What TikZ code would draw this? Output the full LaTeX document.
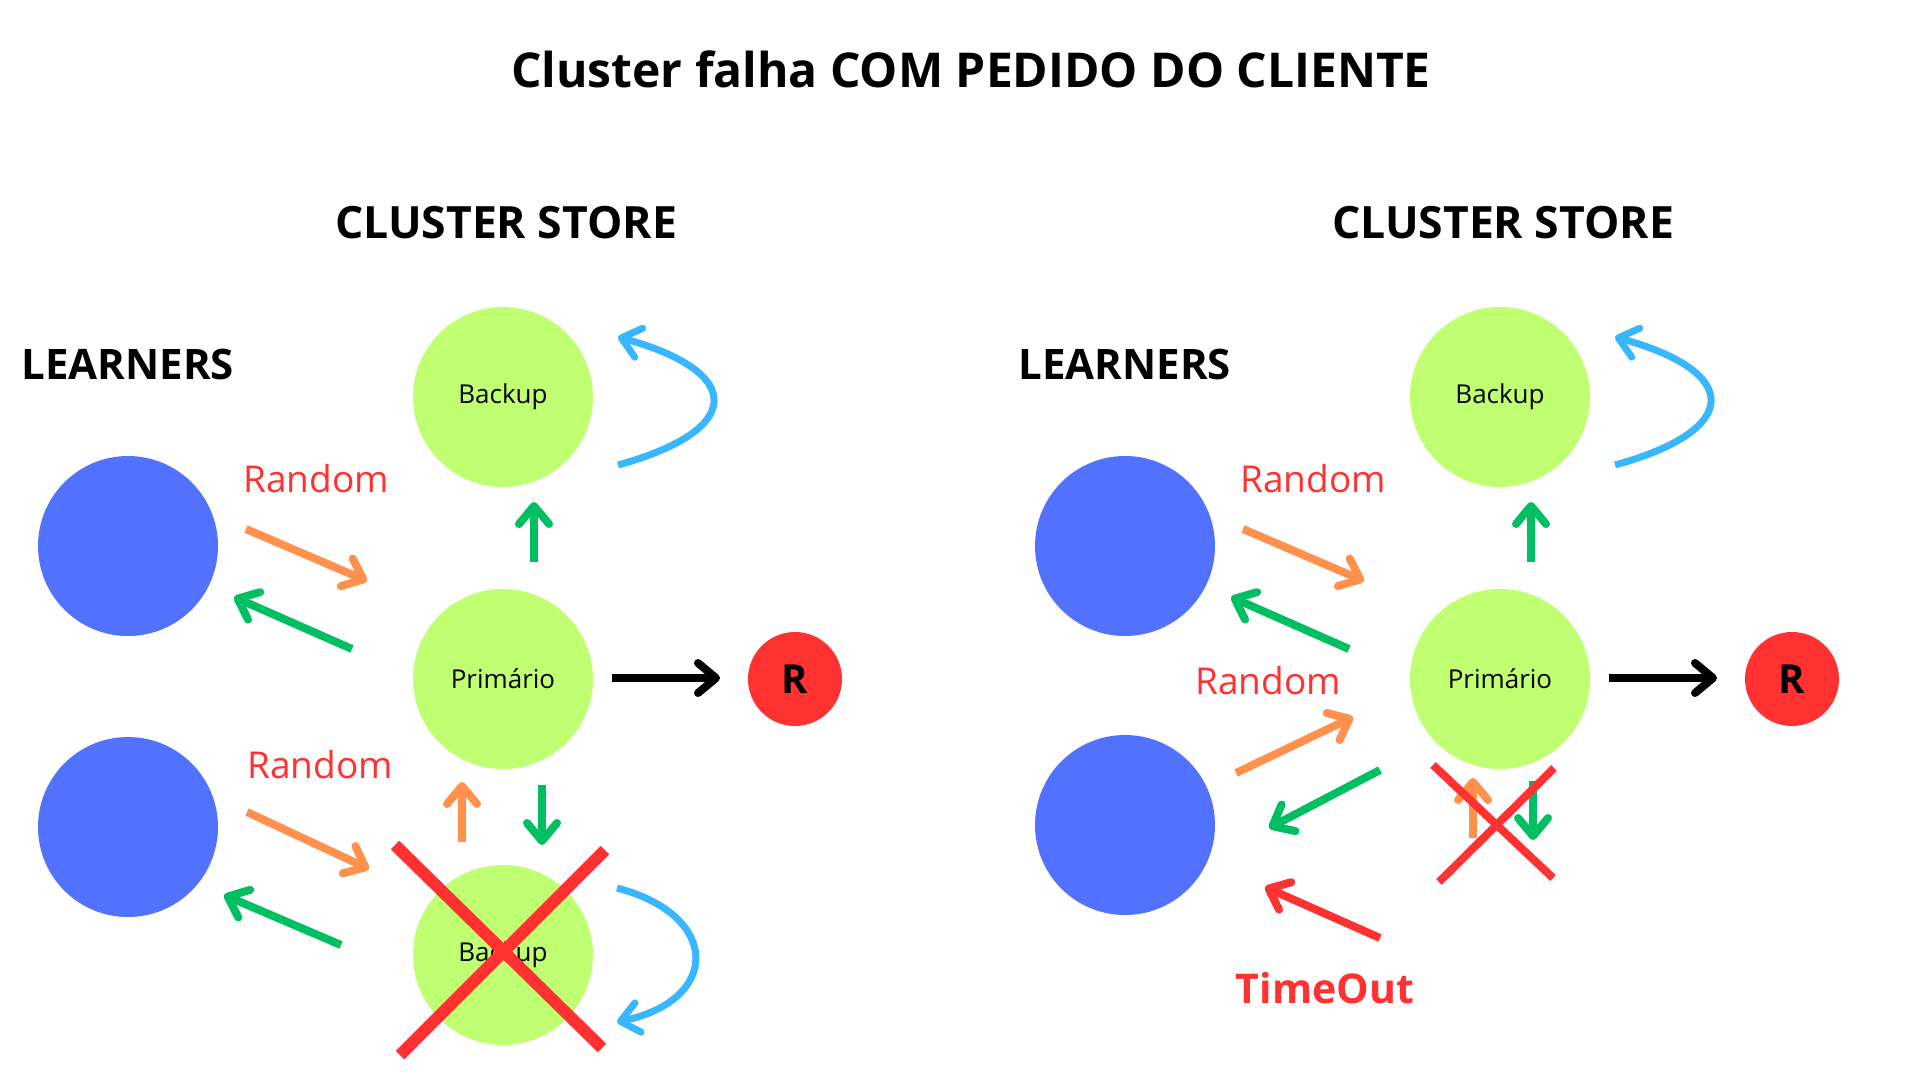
\documentclass[tikz,border=0pt]{standalone}
\usepackage{fontspec}
\setmainfont{Open Sans}
\usetikzlibrary{arrows.meta}
\definecolor{cgreen}{HTML}{00BF63}
\definecolor{corange}{HTML}{FF914D}
\definecolor{cblue}{HTML}{38B6FF}
\definecolor{clearner}{HTML}{5271FF}
\definecolor{cnode}{HTML}{C1FF72}
\definecolor{cred}{HTML}{FF3131}
\begin{document}
\begin{tikzpicture}[x=1pt,y=-1pt,
  learner/.style={circle, fill=clearner, minimum size=180pt, inner sep=0pt},
  store/.style={circle, fill=cnode, minimum size=180pt, inner sep=0pt, font=\fontsize{26}{30}\selectfont},
  rnode/.style={circle, fill=cred, minimum size=94pt, inner sep=0pt, font=\bfseries\fontsize{40}{40}\selectfont},
  heading/.style={anchor=base, font=\bfseries\fontsize{48}{48}\selectfont},
  subheading/.style={anchor=base, font=\bfseries\fontsize{44.5}{44.5}\selectfont},
  learnlbl/.style={anchor=base west, font=\bfseries\fontsize{42}{42}\selectfont},
  randlbl/.style={anchor=base, text=cred, font=\fontsize{37}{37}\selectfont},
  arr/.style={line width=8pt, -{Straight Barb[length=18pt,width=30pt,round]}},
  loop/.style={line width=7pt, cblue, -{Straight Barb[length=18pt,width=30pt,round]}},
  cross/.style={line width=#1, cred}
]
\useasboundingbox (0,0) rectangle (1920,1080);
\fill[white] (0,0) rectangle (1920,1080);

% headings
\node[heading] (title) at (971,87) {Cluster falha COM PEDIDO DO CLIENTE};
\node[subheading] (csL) at (506,238) {CLUSTER STORE};
\node[subheading] (csR) at (1503,238) {CLUSTER STORE};
\node[learnlbl] (lrL) at (18,379) {LEARNERS};
\node[learnlbl] (lrR) at (1015,379) {LEARNERS};

% ===== left cluster =====
\node[learner] (l1L) at (128,546) {};
\node[learner] (l2L) at (128,827) {};
\node[store] (bkL) at (503,397) {Backup};
\node[store] (prL) at (503,679) {Primário};
\node[store] (bk2L) at (503,955) {Backup};
\node[rnode] (rL) at (795,679) {R};
\node[randlbl] (rand1L) at (316,492) {Random};
\node[randlbl] (rand2L) at (320,778) {Random};

\coordinate (o1sL) at (246,529); \coordinate (o1eL) at (367,581);
\coordinate (g1sL) at (352,649); \coordinate (g1eL) at (234,597);
\coordinate (gusL) at (534,562); \coordinate (gueL) at (534,502);
\coordinate (btsL) at (618,465); \coordinate (bteL) at (618,337);
\coordinate (bksL) at (612,678); \coordinate (bkeL) at (720,678);
\coordinate (o2sL) at (247,812); \coordinate (o2eL) at (369,869);
\coordinate (g2sL) at (341,945); \coordinate (g2eL) at (224,895);
\coordinate (ousL) at (462,842); \coordinate (oueL) at (462,782);
\coordinate (gdsL) at (542,785); \coordinate (gdeL) at (542,845);
\coordinate (bbsL) at (617,888); \coordinate (bbeL) at (617,1022);
\coordinate (x1aL) at (395,845); \coordinate (x1bL) at (602,1048);
\coordinate (x2aL) at (605,850); \coordinate (x2bL) at (400,1055);

\draw[arr, corange] (o1sL) -- (o1eL);
\draw[arr, cgreen] (g1sL) -- (g1eL);
\draw[arr, cgreen] (gusL) -- (gueL);
\draw[loop] (btsL) .. controls (745,430) and (745,372) .. (bteL);
\draw[arr, black] (bksL) -- (bkeL);
\draw[arr, corange] (o2sL) -- (o2eL);
\draw[arr, cgreen] (g2sL) -- (g2eL);
\draw[arr, corange] (ousL) -- (oueL);
\draw[arr, cgreen] (gdsL) -- (gdeL);
\draw[loop] (bbsL) .. controls (721,915) and (721,1000) .. (bbeL);
\draw[cross=12pt] (x1aL) -- (x1bL);
\draw[cross=12pt] (x2aL) -- (x2bL);

% ===== right cluster =====
\node[learner] (l1R) at (1125,546) {};
\node[learner] (l2R) at (1125,825) {};
\node[store] (bkR) at (1500,397) {Backup};
\node[store] (prR) at (1500,679) {Primário};
\node[rnode] (rR) at (1792,679) {R};
\node[randlbl] (rand1R) at (1313,492) {Random};
\node[randlbl] (rand2R) at (1268,694) {Random};
\node[anchor=base, text=cred, font=\bfseries\fontsize{41}{41}\selectfont] (toR) at (1325,1003) {TimeOut};

\coordinate (o1sR) at (1243,529); \coordinate (o1eR) at (1364,581);
\coordinate (g1sR) at (1349,649); \coordinate (g1eR) at (1231,597);
\coordinate (gusR) at (1531,562); \coordinate (gueR) at (1531,502);
\coordinate (btsR) at (1615,465); \coordinate (bteR) at (1615,337);
\coordinate (bksR) at (1609,678); \coordinate (bkeR) at (1717,678);
\coordinate (o2sR) at (1236,773); \coordinate (o2eR) at (1353,717);
\coordinate (g2sR) at (1380,770); \coordinate (g2eR) at (1269,828);
\coordinate (tosR) at (1380,938); \coordinate (toeR) at (1265,887);
\coordinate (ousR) at (1473,838); \coordinate (oueR) at (1473,778);
\coordinate (gdsR) at (1533,781); \coordinate (gdeR) at (1533,840);
\coordinate (x1aR) at (1433,765); \coordinate (x1bR) at (1553,878);
\coordinate (x2aR) at (1554,768); \coordinate (x2bR) at (1439,882);

\draw[arr, corange] (o1sR) -- (o1eR);
\draw[arr, cgreen] (g1sR) -- (g1eR);
\draw[arr, cgreen] (gusR) -- (gueR);
\draw[loop] (btsR) .. controls (1742,430) and (1742,372) .. (bteR);
\draw[arr, black] (bksR) -- (bkeR);
\draw[arr, corange] (o2sR) -- (o2eR);
\draw[arr, cgreen] (g2sR) -- (g2eR);
\draw[arr, cred] (tosR) -- (toeR);
\draw[arr, corange] (ousR) -- (oueR);
\draw[arr, cgreen] (gdsR) -- (gdeR);
\draw[cross=8pt] (x1aR) -- (x1bR);
\draw[cross=8pt] (x2aR) -- (x2bR);
\end{tikzpicture}
\end{document}
